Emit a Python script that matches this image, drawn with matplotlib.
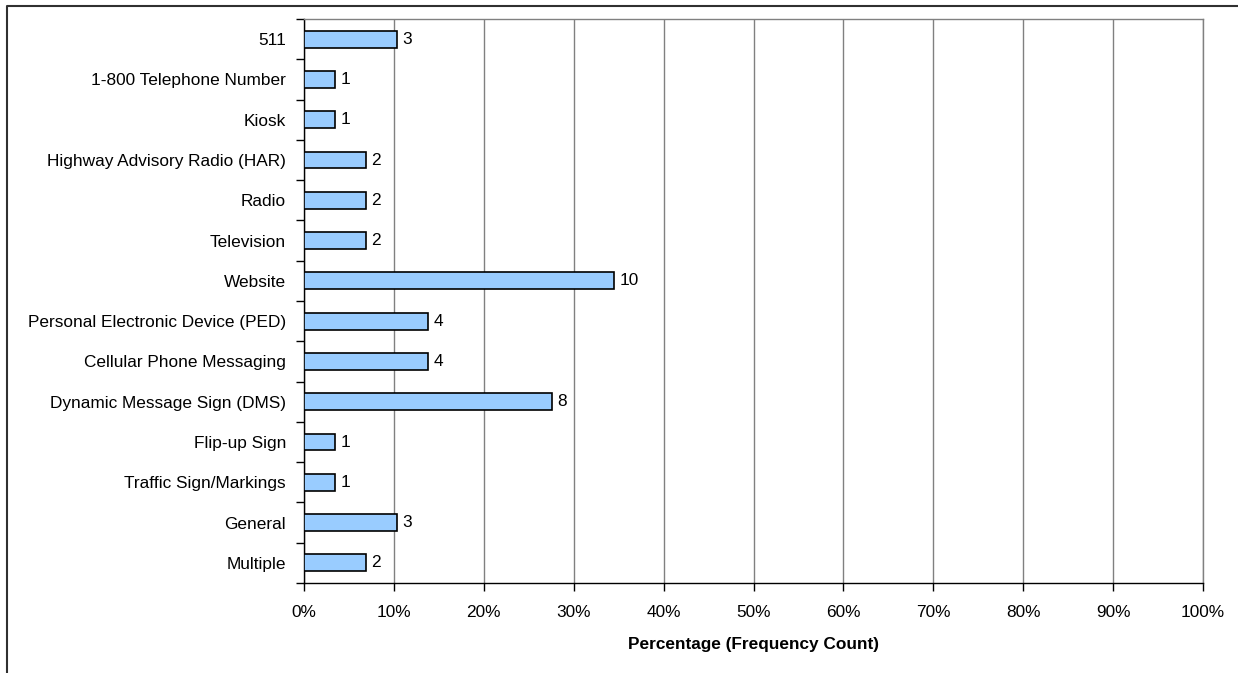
import matplotlib
matplotlib.use("Agg")
import matplotlib.pyplot as plt
from matplotlib.lines import Line2D

categories = ["511", "1-800 Telephone Number", "Kiosk", "Highway Advisory Radio (HAR)",
              "Radio", "Television", "Website", "Personal Electronic Device (PED)",
              "Cellular Phone Messaging", "Dynamic Message Sign (DMS)", "Flip-up Sign",
              "Traffic Sign/Markings", "General", "Multiple"]
counts = [3, 1, 1, 2, 2, 2, 10, 4, 4, 8, 1, 1, 3, 2]
total = 29
percent = [c / total * 100 for c in counts]
xticks = list(range(0, 101, 10))
xtick_labels = [f"{t}%" for t in xticks]

plt.rcParams['font.family'] = ['Liberation Sans', 'DejaVu Sans']
FS = 12.4

W, H = 1238, 673
fig = plt.figure(figsize=(W / 100, H / 100), dpi=100)
ax = fig.add_axes([304 / W, 1 - 583 / H, (1203 - 304) / W, (583 - 19) / H])

n = len(categories)
ypos = list(range(n))
ax.barh(ypos, percent, height=0.42, color='#99CCFF', edgecolor='black', linewidth=1.2, zorder=3)
for y, p, c in zip(ypos, percent, counts):
    ax.text(p + 0.6, y, str(c), va='center', ha='left', fontsize=FS, zorder=4)

ax.set_xlim(0, 100)
ax.set_ylim(n - 0.5, -0.5)
ax.set_xticks(xticks)
ax.set_xticklabels(xtick_labels, fontsize=FS)
ax.set_yticks(ypos)
ax.set_yticklabels(categories, fontsize=FS)
ax.tick_params(axis='y', length=0, pad=13)
ax.set_yticks([i - 0.5 for i in range(n + 1)], minor=True)
ax.tick_params(axis='y', which='minor', length=6, width=1, direction='out')
ax.tick_params(axis='x', length=6, width=1, direction='out', pad=10)
ax.grid(axis='x', color='#808080', linewidth=1, zorder=0)
ax.set_xlabel("Percentage (Frequency Count)", fontsize=FS, fontweight='bold', labelpad=12)

ax.spines['left'].set_color('black')
ax.spines['bottom'].set_color('black')
ax.spines['top'].set_color('#808080')
ax.spines['right'].set_color('#808080')
for s in ax.spines.values():
    s.set_linewidth(1)

fx = 7 / W
fy = 1 - 5.5 / H
fig.add_artist(Line2D([fx, fx, 1], [0, fy, fy], transform=fig.transFigure,
                      color='#303030', linewidth=1.5))

fig.savefig("out.png", dpi=100)
